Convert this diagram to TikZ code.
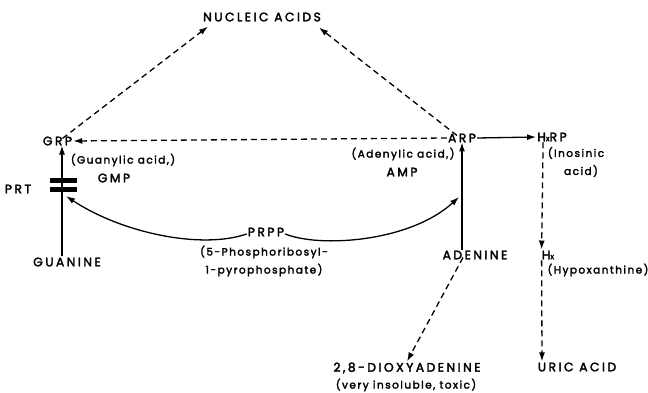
\documentclass[tikz,border=0pt]{standalone}
\usepackage{fontspec}
\setmainfont{Poppins}[LetterSpace=15,FakeBold=2.5]
\newfontfamily\capsfont{Poppins}[LetterSpace=20,FakeBold=2.5]
\newfontfamily\lowfont{Poppins}[LetterSpace=14,FakeBold=2.5]
\usetikzlibrary{arrows.meta}
\begin{document}
\begin{tikzpicture}[x=1pt,y=-1pt,
  lbl/.style={inner sep=1pt,font=\capsfont\fontsize{12.3}{14}\selectfont},
  note/.style={inner sep=1pt,font=\lowfont\fontsize{10.5}{12}\selectfont},
  conn/.style={line width=1.3pt,-{Latex[length=9pt,width=6pt]}},
  dconn/.style={conn,dash pattern=on 6pt off 4pt},
  bar/.style={fill=black,inner sep=0pt,minimum width=27pt,minimum height=5pt}]
\useasboundingbox (0,0) rectangle (648,393);
\node[lbl] (nuc) at (262,17) {NUCLEIC ACIDS};
\node[lbl] (grp) at (57.5,141) {GRP};
\node[note] (grpnote) at (123,160) {(Guanylic acid,)};
\node[lbl] (gmp) at (114,178) {GMP};
\node[lbl] (prt) at (18,189) {PRT};
\node[bar] (bar1) at (63,180.5) {};
\node[bar] (bar2) at (63,189.5) {};
\node[lbl] (guanine) at (67,262) {GUANINE};
\node[lbl] (prpp) at (266,232) {PRPP};
\node[note] (prppa) at (264,252) {(5-Phosphoribosyl-};
\node[note] (prppb) at (264,270) {1-pyrophosphate)};
\node[lbl] (arp) at (462,138) {ARP};
\node[note] (arpnote) at (403,154) {(Adenylic acid,)};
\node[lbl] (amp) at (402,172) {AMP};
\node[lbl] (adenine) at (475,255) {ADENINE};
\node[lbl] (hxrp) at (552,137) {H{\lowfont\footnotesize x}RP};
\node[note] (inos1) at (576,153) {(Inosinic};
\node[note] (inos2) at (581,171) {acid)};
\node[lbl] (hx) at (548,255) {H{\lowfont\footnotesize x}};
\node[note] (hypo) at (598,270) {(Hypoxanthine)};
\node[lbl] (uric) at (577,367) {URIC ACID};
\node[lbl] (diox) at (407,368) {2,8-DIOXYADENINE};
\node[note] (dioxnote) at (406,385) {(very insoluble, toxic)};
\coordinate (gin) at (66,196);
\coordinate (ain) at (459,197);
% connectors
\draw[dconn] ([xshift=5pt,yshift=-3pt]grp.north) -- ([xshift=6pt,yshift=-4pt]nuc.south west);
\draw[dconn] ([xshift=-5pt,yshift=-3pt]arp.north) -- ([xshift=-3pt,yshift=-5pt]nuc.south east);
\draw[dconn] (arp.west) -- (grp.east);
\draw[conn] ([xshift=-5pt]guanine.north) -- ([xshift=4.5pt,yshift=1pt]grp.south);
\draw[conn] (adenine.north -| arp.south) -- ([yshift=1pt]arp.south);
\draw[conn] (arp.east) -- (hxrp.west);
\draw[dconn] ([xshift=7pt]hxrp.south west) -- ([xshift=1pt]hx.north west);
\draw[dconn] ([xshift=1pt]hx.south west) -- ([xshift=-35pt]uric.north);
\draw[dconn] ([xshift=-12pt,yshift=3pt]adenine.south) -- (diox.north);
\draw[conn] ([yshift=-2pt]prpp.west) .. controls (200,250) and (120,232) .. (gin);
\draw[conn] ([yshift=-2pt]prpp.east) .. controls (320,248) and (410,242) .. (ain);
\end{tikzpicture}
\end{document}
